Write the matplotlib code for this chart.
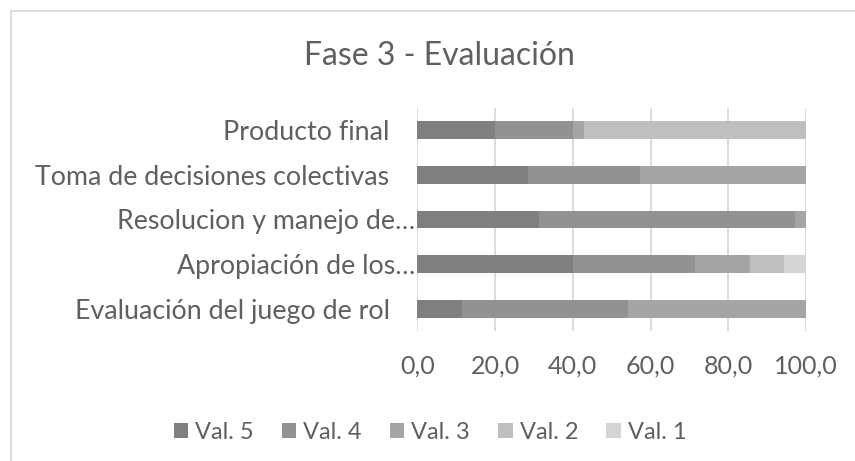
import numpy as np
import matplotlib.pyplot as plt
import matplotlib.transforms as mtransforms
from matplotlib.patches import Patch
from matplotlib.lines import Line2D

plt.rcParams['font.family'] = ['Lato', 'DejaVu Sans']

categories = ['Producto final', 'Toma de decisiones colectivas', 'Resolucion y manejo de…',
              'Apropiación de los…', 'Evaluación del juego de rol']
series = ['Val. 5', 'Val. 4', 'Val. 3', 'Val. 2', 'Val. 1']
val5 = [20.0, 28.6, 31.4, 40.0, 11.4]
val4 = [20.0, 28.6, 65.7, 31.4, 42.9]
val3 = [2.9, 42.9, 2.9, 14.3, 45.7]
val2 = [57.1, 0.0, 0.0, 8.6, 0.0]
val1 = [0.0, 0.0, 0.0, 5.7, 0.0]
ticks = [0, 20, 40, 60, 80, 100]

colors = ['#7f7f7f', '#929292', '#a5a5a5', '#bfbfbf', '#d4d4d4']
text_col = '#5f5f5f'

fig = plt.figure(figsize=(8.55, 4.61), dpi=100)
ax = fig.add_axes([417.3 / 855, 1 - 331 / 461, (806 - 417.3) / 855, (331 - 108) / 461])

y = np.arange(len(categories))
left = np.zeros(len(categories))
for vals, c, name in zip([val5, val4, val3, val2, val1], colors, series):
    ax.barh(y, vals, left=left, height=0.4, color=c, label=name, zorder=3)
    left += np.array(vals)

ax.set_ylim(len(categories) - 0.5, -0.5)
ax.set_xlim(0, 100)
ax.set_xticks(ticks)
ax.set_xticklabels([f'{t:.1f}'.replace('.', ',') for t in ticks])
ax.set_yticks(y)
ax.set_yticklabels(categories)
ax.tick_params(axis='x', length=0, labelcolor=text_col, labelsize=18, pad=17)
ax.tick_params(axis='y', length=0, labelcolor=text_col, labelsize=19.3, pad=20)
ax.grid(axis='x', color='#d9d9d9', linewidth=1.3, zorder=0)
for s in ax.spines.values():
    s.set_visible(False)

# truncated labels run up to the axis, like the original
shift = mtransforms.ScaledTranslation(26 / 100, 0, fig.dpi_scale_trans)
for lab in ax.get_yticklabels():
    if lab.get_text().endswith('…'):
        lab.set_transform(lab.get_transform() + shift)

fig.text(439 / 855, 1 - 56 / 461, 'Fase 3 - Evaluación', ha='center', va='center',
         fontsize=23, color=text_col)

handles = [Patch(facecolor=c, edgecolor='none') for c in colors]
fig.legend(handles, series, loc='center', bbox_to_anchor=(430 / 855, 1 - 432 / 461),
           ncol=5, frameon=False, fontsize=17, labelcolor=text_col,
           handlelength=0.6, handleheight=0.6, handletextpad=0.3, columnspacing=1.2)

# chart border (left and top only visible in the crop)
fig.add_artist(Line2D([10.5 / 855, 10.5 / 855], [0, 1 - 11.5 / 461], color='#d9d9d9', lw=1.3))
fig.add_artist(Line2D([10.5 / 855, 1], [1 - 11.5 / 461, 1 - 11.5 / 461], color='#d9d9d9', lw=1.3))

fig.savefig('out.png', dpi=100)
